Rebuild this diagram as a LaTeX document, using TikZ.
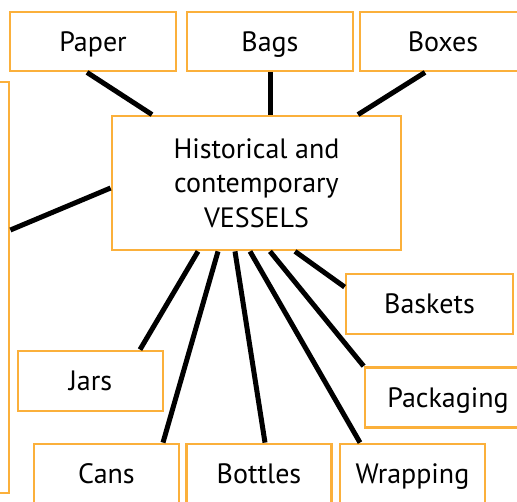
\documentclass[tikz,border=0pt]{standalone}
\usepackage{fontspec}
\setmainfont{PT Sans}
\usepackage{xcolor}
\definecolor{boxorange}{RGB}{251,176,59}
\usetikzlibrary{positioning}

\begin{document}
\begin{tikzpicture}[x=1pt, y=-1pt,
        vbox/.style={draw=boxorange, line width=2.8pt, fill=white,
            minimum width=145pt, minimum height=60pt, inner sep=0pt,
            text height=19pt, text depth=0pt,
            font=\fontsize{28}{34.5}\selectfont},
        link/.style={line width=5pt}]
        \useasboundingbox (0,0) rectangle (517,501);
        \clip (0,0) rectangle (517,501);
        % 中央の箱
        \node[vbox, minimum width=289pt, minimum height=134pt, text height=, text depth=, align=center] (hub) at (256.5,183) {Historical and\\contemporary\\VESSELS};
        
        \node[vbox, minimum width=166pt, minimum height=59pt] (paper) at (93,41.5) {Paper};
        \node[vbox, minimum width=166pt, minimum height=59pt] (bags) at (270,41.5) {Bags};
        \node[vbox, minimum width=166pt, minimum height=59pt] (boxes) at (443,41.5) {Boxes};
        \node[vbox, minimum width=118pt, minimum height=411pt] (wall) at (-50,287.5) {};
        
        \node[vbox] (jars) at (90.5,381) {Jars};
        \node[vbox] (cans) at (106.5,474) {Cans};
        \node[vbox] (bottles) at (259,474) {Bottles};
        \node[vbox] (wrapping) at (412.5,474) {Wrapping};
        \node[vbox, minimum width=167pt] (baskets) at (429.5,304) {Baskets};
        \node[vbox, minimum width=166pt] (packaging) at (448,397.5) {Packaging};
        
        % 上の線
        \draw[link] ([xshift=-6pt]paper.south) -- ([xshift=-104.5pt]hub.north);
        \draw[link] (bags.south) -- (bags.south |- hub.north);
        \draw[link] ([xshift=-18pt]boxes.south) -- ([xshift=101.5pt]hub.north);
        \draw[link] ([yshift=57.5pt]wall.east) -- ([yshift=-5pt]hub.west);
        % 下の線
        \draw[link] ([xshift=-58.5pt]hub.south) -- ([xshift=49.5pt]jars.north);
        \draw[link] ([xshift=-38.5pt]hub.south) -- ([xshift=56.5pt]cans.north);
        \draw[link] ([xshift=-21.5pt]hub.south) -- ([xshift=6pt]bottles.north);
        \draw[link] ([xshift=-6.5pt]hub.south) -- ([xshift=-52.5pt]wrapping.north);
        \draw[link] ([xshift=13.5pt]hub.south) -- (packaging.north west);
        \draw[link] ([xshift=38.5pt]hub.south) -- ([yshift=17pt]baskets.west);
    \end{tikzpicture}
\end{document}
